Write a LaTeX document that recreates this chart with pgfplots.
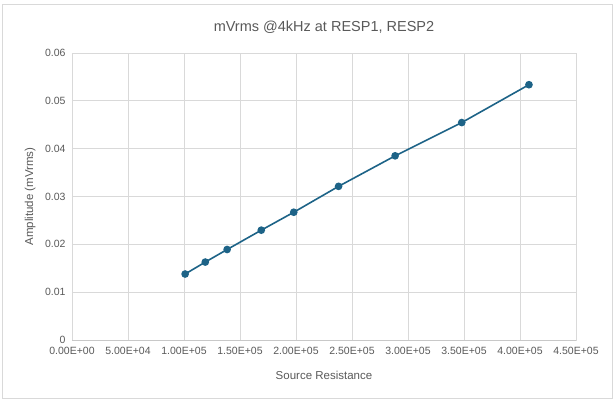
\documentclass[border=0pt]{standalone}
\usepackage{fontspec}
\setmainfont{Liberation Sans}
\usepackage{pgfplots}
\pgfplotsset{compat=1.18}
\definecolor{txtgray}{HTML}{595959}
\definecolor{gridgray}{HTML}{D9D9D9}
\definecolor{axisgray}{HTML}{C8C8C8}
\definecolor{lineblue}{HTML}{1D6387}

\begin{document}
\begin{tikzpicture}[x=1pt,y=1pt]
\useasboundingbox (0,0) rectangle (616,401);
\draw[gridgray, line width=0.8pt] (2.5,3) rectangle (612,397);
\begin{axis}[
  at={(72pt,61pt)}, anchor=south west,
  width=504pt, height=287pt, scale only axis,
  xmin=0, xmax=450000, ymin=0, ymax=0.06,
  xtick={0,50000,...,450000},
  xticklabels={0.00E+00,5.00E+04,1.00E+05,1.50E+05,2.00E+05,2.50E+05,3.00E+05,3.50E+05,4.00E+05,4.50E+05},
  ytick={0,0.01,...,0.06},
  yticklabels={0,0.01,0.02,0.03,0.04,0.05,0.06},
  scaled x ticks=false, scaled y ticks=false,
  major tick length=0pt,
  grid=major,
  grid style={gridgray, line width=0.8pt},
  axis line style={gridgray, line width=0.8pt},
  ticklabel style={font=\fontsize{10.5}{12}\selectfont, text=txtgray},
  xticklabel style={yshift=-4pt},
  yticklabel style={xshift=-3pt},
  xlabel={Source Resistance},
  ylabel={Amplitude (mVrms)},
  label style={font=\fontsize{11.5}{13}\selectfont, text=txtgray},
  xlabel style={at={(axis description cs:0.5,-0.125)}, anchor=center},
  ylabel style={at={(axis description cs:-0.083,0.5)}, anchor=center},
  title={mVrms @4kHz at RESP1, RESP2},
  title style={font=\fontsize{14.5}{17}\selectfont, text=txtgray, at={(axis description cs:0.5,1.0)}, anchor=center, yshift=20pt},
  clip=false,
]
\addplot[lineblue, line width=1.6pt, mark=*, mark size=3pt, mark options={fill=lineblue, draw=lineblue}]
  coordinates {
    (101000,0.01379)
    (119000,0.01629)
    (138500,0.01892)
    (169000,0.02296)
    (198000,0.02671)
    (238000,0.03212)
    (288500,0.03850)
    (348000,0.04546)
    (408000,0.05337)
  };
\end{axis}
\draw[axisgray, line width=0.8pt] (72,61) -- (576,61);
\end{tikzpicture}
\end{document}
